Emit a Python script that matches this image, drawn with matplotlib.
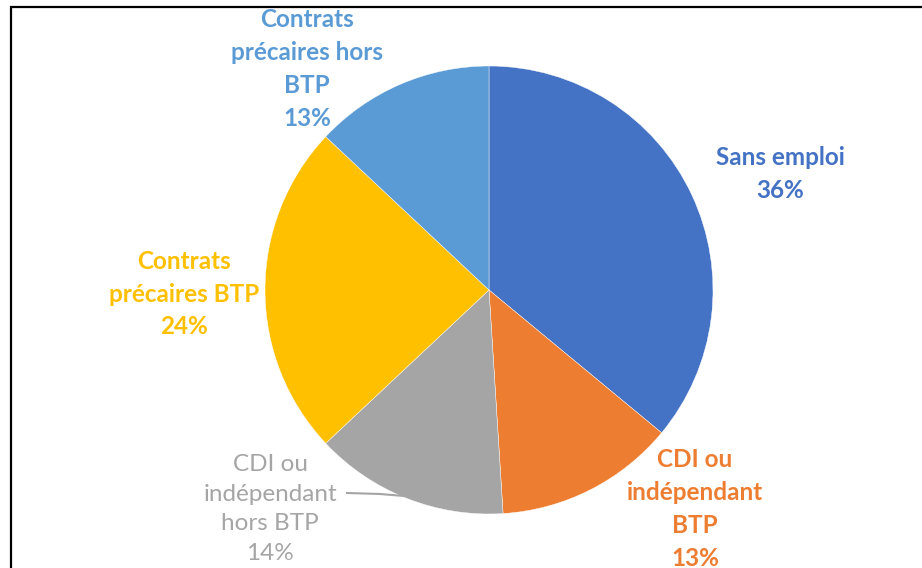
import matplotlib.pyplot as plt
from matplotlib.patches import Rectangle

labels = ["Sans emploi", "CDI ou\nindépendant\nBTP", "CDI ou\nindépendant\nhors BTP",
          "Contrats\nprécaires BTP", "Contrats\nprécaires hors\nBTP"]
shares = [36, 13, 14, 24, 13]
colors = ['#4472C4', '#ED7D31', '#A5A5A5', '#FFC000', '#5B9BD5']
# label centres in pixel coords (x, y from top), weight
label_pos = [(780, 174), (695, 509), (270, 509), (184, 294), (307, 69)]
label_bold = [True, True, False, True, True]

W, H = 922, 568
fig = plt.figure(figsize=(W / 100, H / 100), dpi=100)
ax = fig.add_axes([0, 0, 1, 1])

cx, cy, r = 489, H - 290, 224
ax.pie(shares, colors=colors, startangle=90, counterclock=False,
       center=(cx, cy), radius=r, frame=True,
       wedgeprops=dict(linewidth=0.3, edgecolor='white'))
ax.set_xlim(0, W)
ax.set_ylim(0, H)
ax.axis('off')

for lab, val, col, (px, py), bold in zip(labels, shares, colors, label_pos, label_bold):
    ax.text(px, H - py, f"{lab}\n{val}%", color=col, ha='center', va='center',
            fontsize=17.5, family='Lato', fontweight='bold' if bold else 'normal',
            linespacing=1.52)

# leader line for the grey slice
ax.plot([347, 380, 404], [H - 493, H - 494, H - 496], color='#A5A5A5', lw=1.5)

# frame around the picture (top and left edges visible)
ax.add_patch(Rectangle((10.5, -20), W + 20, H - 6.5 + 20, fill=False,
                       edgecolor='black', lw=1.6, clip_on=False))

fig.savefig('out.png', dpi=100)
